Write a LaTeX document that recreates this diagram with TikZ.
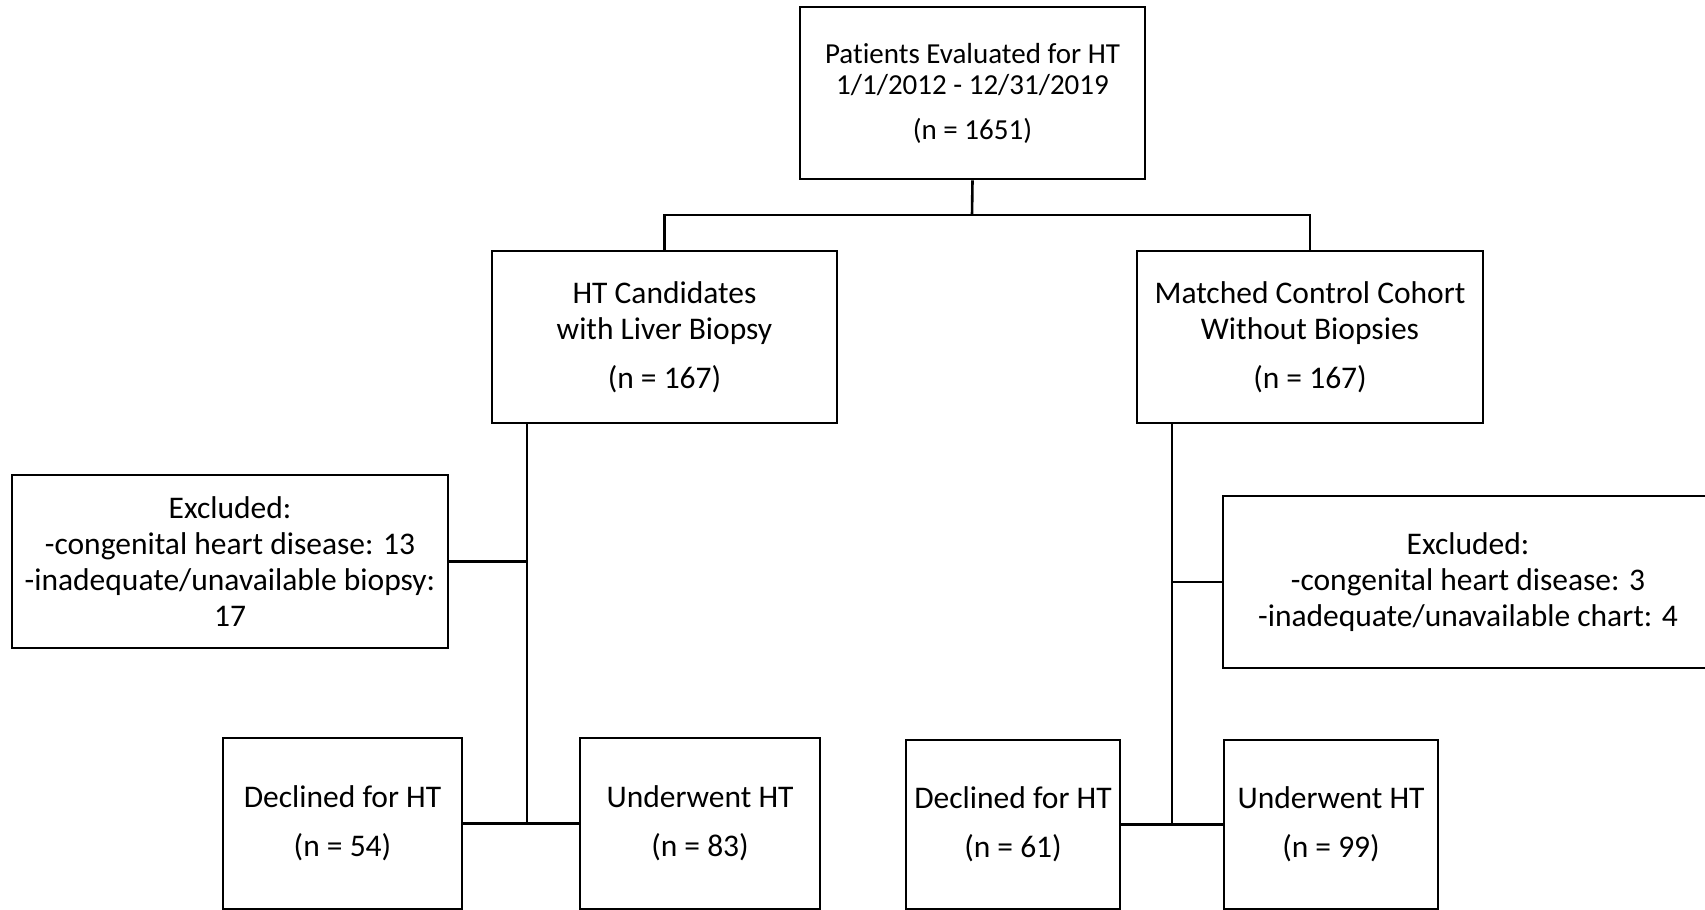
\documentclass[tikz,border=0pt]{standalone}
\usepackage{fontspec}
\setmainfont{Carlito}[Ligatures=NoCommon]
\usepackage{tikz}
\usetikzlibrary{positioning}

\tikzset{
    flowbox/.style={draw, line width=2.6pt, align=center, inner sep=0pt,
        font=\fontsize{31.5}{36}\selectfont},
}

\begin{document}
\begin{tikzpicture}[x=1pt, y=-1pt, line width=2.6pt]
    \useasboundingbox (0,0) rectangle (1705,910);
    % top level
    \node[flowbox, minimum width=345, minimum height=172,
        font=\fontsize{29}{31}\selectfont] (eval) at (972.5,93)
        {Patients Evaluated for HT\\1/1/2012 - 12/31/2019\\[14pt](n = 1651)};
    \node[flowbox, minimum width=345, minimum height=172] (biopsy) at (664.5,337)
        {HT Candidates\\with Liver Biopsy\\[13pt](n = 167)};
    \node[flowbox, minimum width=346, minimum height=172] (control) at (1310,337)
        {Matched Control Cohort\\Without Biopsies\\[13pt](n = 167)};
    % exclusions
    \node[flowbox, minimum width=436, minimum height=173] (exbiopsy) at (230,561.5)
        {Excluded:\\-congenital heart disease: 13\\-inadequate/unavailable biopsy:\\17};
    \node[flowbox, minimum width=490, minimum height=172] (excontrol) at (1468,582)
        {Excluded:\\-congenital heart disease: 3\\-inadequate/unavailable chart: 4};
    % outcomes
    \node[flowbox, minimum width=239, minimum height=171] (declbiopsy) at (342.5,823.5)
        {Declined for HT\\[13pt](n = 54)};
    \node[flowbox, minimum width=240, minimum height=171] (htbiopsy) at (700,823.5)
        {Underwent HT\\[13pt](n = 83)};
    \node[flowbox, minimum width=214, minimum height=169] (declcontrol) at (1013,824.5)
        {Declined for HT\\[13pt](n = 61)};
    \node[flowbox, minimum width=214, minimum height=169] (htcontrol) at (1331,824.5)
        {Underwent HT\\[13pt](n = 99)};

    \coordinate (split) at (972,215);
    \coordinate (lbot) at (527,823.5);
    \coordinate (rbot) at (1172,824.5);

    \draw (eval.south) -- (split);
    \draw (biopsy.north) |- (split) -| (control.north);
    \draw (biopsy.south -| lbot) -- (lbot);
    \draw (control.south -| rbot) -- (rbot);
    \draw (exbiopsy.east) -- (exbiopsy.east -| lbot);
    \draw (excontrol.west) -- (excontrol.west -| rbot);
    \draw (declbiopsy.east) -- (htbiopsy.west);
    \draw (declcontrol.east) -- (htcontrol.west);
\end{tikzpicture}
\end{document}
